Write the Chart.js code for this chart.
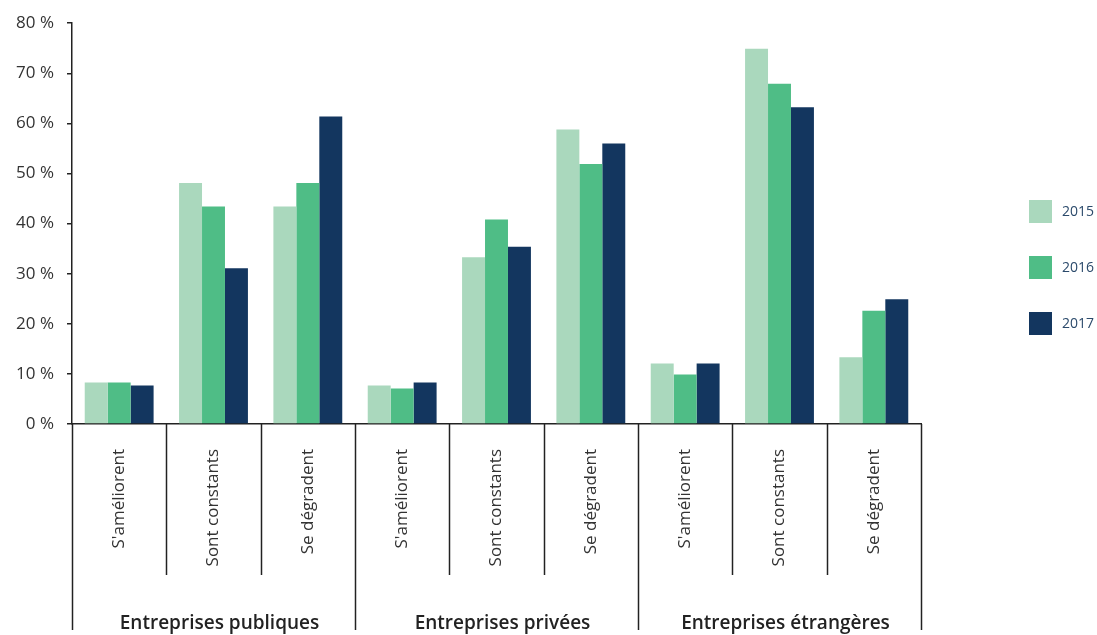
<!DOCTYPE html>
<html>
<head>
<meta charset="utf-8">
<script src="https://cdn.jsdelivr.net/npm/chart.js@4.4.0/dist/chart.umd.min.js"></script>
<style>
  html, body { margin: 0; padding: 0; background: #fff; }
  #wrap { width: 1097px; height: 635px; position: relative; }
</style>
</head>
<body>
<div id="wrap"><canvas id="grafico"></canvas></div>
<script>
// categories
const categorias = [
  "S'améliorent", 'Sont constants', 'Se dégradent',
  "S'améliorent", 'Sont constants', 'Se dégradent',
  "S'améliorent", 'Sont constants', 'Se dégradent'
];
const groupes = ['Entreprises publiques', 'Entreprises privées', 'Entreprises étrangères'];
const annees = ['2015', '2016', '2017'];

// values (%)
const valeurs2015 = [8.3, 48.1, 43.4, 7.7, 33.3, 58.8, 12.1, 74.9, 13.3];
const valeurs2016 = [8.3, 43.4, 48.1, 7.1, 40.8, 51.9, 9.9, 67.9, 22.6];
const valeurs2017 = [7.7, 31.1, 61.4, 8.3, 35.4, 56.0, 12.1, 63.2, 24.9];

const couleurs = ['#aad8bd', '#4fbd86', '#13365f'];
const police = "'Open Sans', sans-serif";

// separateurs, libelles de groupe et legende
const decorPlugin = {
  id: 'decor',
  afterDraw(chart) {
    const ctx = chart.ctx;
    const x = chart.scales.x;
    const area = chart.chartArea;
    const n = categorias.length;
    const bord = (i) => {
      if (i === 0) return area.left;
      if (i === n) return area.right;
      return (x.getPixelForValue(i - 1) + x.getPixelForValue(i)) / 2;
    };
    ctx.save();
    ctx.strokeStyle = '#222';
    ctx.lineWidth = 1.5;
    for (let i = 0; i <= n; i++) {
      const px = Math.round(bord(i)) + 0.5;
      const fin = (i % 3 === 0) ? 630 : 575;
      ctx.beginPath();
      ctx.moveTo(px, area.bottom);
      ctx.lineTo(px, fin);
      ctx.stroke();
    }
    ctx.fillStyle = '#222';
    ctx.font = "600 19px " + police;
    ctx.textAlign = 'center';
    ctx.textBaseline = 'middle';
    groupes.forEach((g, k) => {
      const cx = (bord(k * 3) + bord(k * 3 + 3)) / 2;
      ctx.fillText(g, cx + 6, 624);
    });
    // legende
    ctx.font = "14px " + police;
    ctx.textAlign = 'left';
    annees.forEach((a, k) => {
      const y = 211 + k * 56;
      ctx.fillStyle = couleurs[k];
      ctx.fillRect(1029, y - 11, 23, 23);
      ctx.fillStyle = '#2b4a6b';
      ctx.fillText(a, 1062, y + 1);
    });
    ctx.restore();
  }
};

new Chart(document.getElementById('grafico'), {
  type: 'bar',
  data: {
    labels: categorias,
    datasets: [
      { label: annees[0], data: valeurs2015, backgroundColor: couleurs[0] },
      { label: annees[1], data: valeurs2016, backgroundColor: couleurs[1] },
      { label: annees[2], data: valeurs2017, backgroundColor: couleurs[2] }
    ]
  },
  options: {
    responsive: true,
    maintainAspectRatio: false,
    animation: false,
    layout: { padding: { top: 18, right: 176, left: 0, bottom: 0 } },
    datasets: { bar: { categoryPercentage: 0.73, barPercentage: 1.0 } },
    plugins: { legend: { display: false }, tooltip: { enabled: false } },
    scales: {
      x: {
        grid: { display: false, drawTicks: false },
        border: { display: true, color: '#222', width: 1.5 },
        ticks: {
          color: '#333',
          font: { family: police, size: 17 },
          minRotation: 90, maxRotation: 90,
          autoSkip: false,
          padding: 25
        },
        afterFit: (s) => { s.height = 211; }
      },
      y: {
        min: 0, max: 80,
        grid: { drawOnChartArea: false, color: '#222', lineWidth: 1.5, tickLength: 5 },
        border: { display: true, color: '#222', width: 1.5 },
        ticks: {
          stepSize: 10,
          color: '#333',
          padding: 13,
          font: { family: police, size: 17 },
          callback: (v) => v + ' %'
        },
        afterFit: (s) => { s.width = 72; }
      }
    }
  },
  plugins: [decorPlugin]
});
</script>
</body>
</html>
